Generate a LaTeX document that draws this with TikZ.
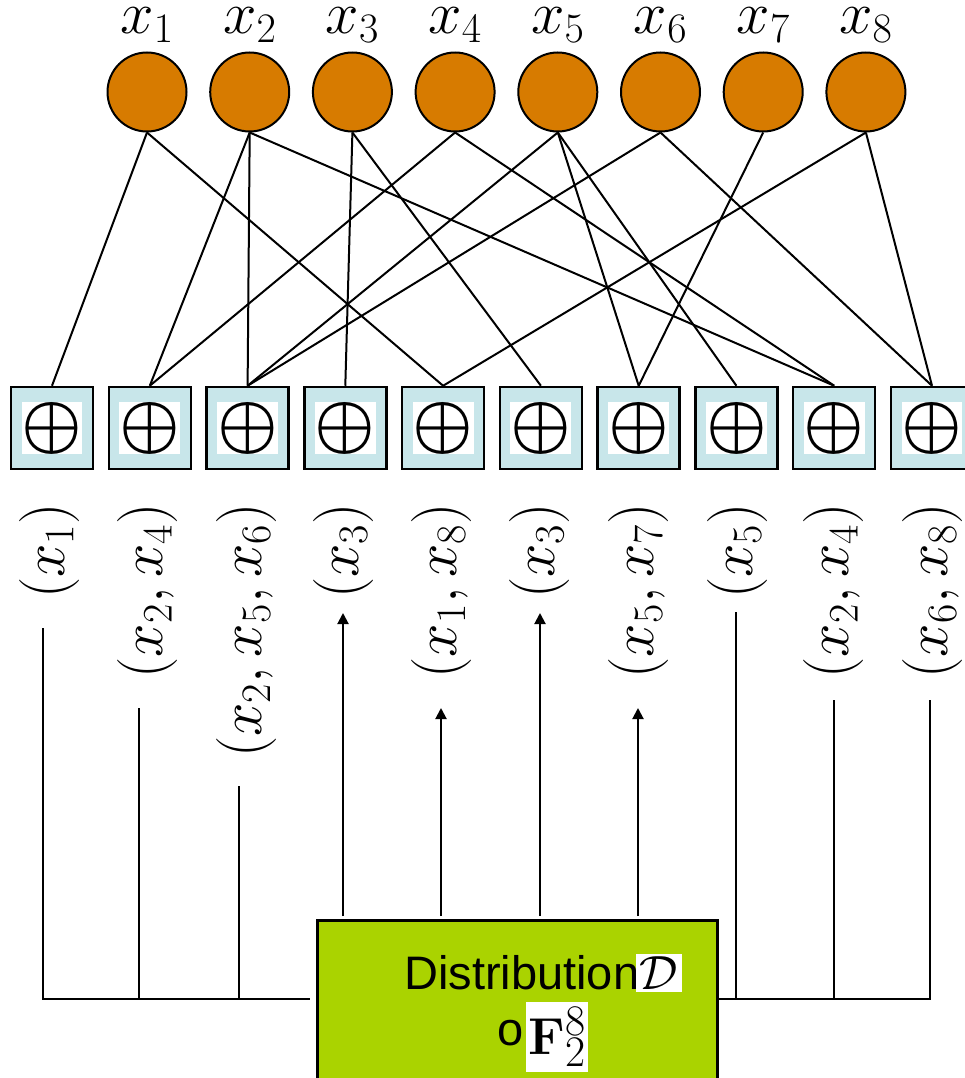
\RequirePackage{fix-cm}
\documentclass[tikz,border=0pt]{standalone}
\usepackage{graphicx}
\usepackage[no-math]{fontspec}
\newfontfamily\labelsans{Liberation Sans}
\usetikzlibrary{arrows.meta,calc}

\definecolor{varfill}{RGB}{215,123,0}
\definecolor{xorfill}{RGB}{200,230,234}
\definecolor{distfill}{RGB}{170,211,0}

% enlarged script digits for the field symbol
\newcommand{\bigscr}[1]{\scalebox{1.2}{$\scriptstyle #1$}}

\begin{document}
\begin{tikzpicture}[x=1pt,y=-1pt,
  var/.style={circle, draw=black, line width=2pt, fill=varfill,
    minimum size=79pt, inner sep=0pt},
  varlab/.style={anchor=base, inner sep=0pt, font=\fontsize{60}{72}\selectfont},
  xorbox/.style={rectangle, draw=black, line width=2.5pt, fill=xorfill,
    minimum size=82pt, inner sep=0pt},
  xorsym/.style={rectangle, fill=white, minimum width=48pt, minimum height=51pt,
    inner sep=0pt, font=\fontsize{68}{72}\selectfont\boldmath},
  tuplab/.style={rotate=90, anchor=east, inner sep=0pt,
    font=\fontsize{60}{72}\selectfont},
  wire/.style={line width=2pt},
  feed/.style={line width=2pt, -{Triangle[length=11pt,width=11pt]}},
  disttext/.style={anchor=base west, inner sep=0pt,
    font={\labelsans\fontsize{47}{56}\selectfont}},
  mathpatch/.style={rectangle, fill=white, inner sep=0pt},
]
\useasboundingbox (0,0) rectangle (965,1078);

% variable nodes x1..x8 with their labels
\foreach \i/\cx in {1/147,2/249.7,3/352.4,4/455.1,5/557.8,6/660.5,7/763.2,8/865.9} {
  \node[var] (x\i) at (\cx,92) {};
  \node[varlab] (lx\i) at (\cx,34) {$x_{\i}$};
}

% parity check boxes
\foreach \i/\cx in {1/52,2/149.8,3/247.6,4/345.3,5/443.1,6/540.9,7/638.7,8/736.4,9/834.2,10/932} {
  \node[xorbox] (p\i) at (\cx,428) {};
  \node[xorsym] (s\i) at (p\i) {$\oplus$};
}

% bipartite connections
\foreach \a/\b in {1/1,1/5,2/2,2/3,2/9,3/4,3/6,4/2,4/9,5/3,5/7,5/8,6/3,6/10,7/7,8/5,8/10}
  \draw[wire] (x\a.south) -- (p\b.north);

% tuples read by each check
\node[tuplab] (t1)  at (49.5,503)  {$(x_1)$};
\node[tuplab] (t2)  at (147.5,503) {$(x_2,x_4)$};
\node[tuplab] (t3)  at (246,503)   {$(x_2,x_5,x_6)$};
\node[tuplab] (t4)  at (343,503)   {$(x_3)$};
\node[tuplab] (t5)  at (441,503)   {$(x_1,x_8)$};
\node[tuplab] (t6)  at (539.5,503) {$(x_3)$};
\node[tuplab] (t7)  at (638,503)   {$(x_5,x_7)$};
\node[tuplab] (t8)  at (737,503)   {$(x_5)$};
\node[tuplab] (t9)  at (833.5,503) {$(x_2,x_4)$};
\node[tuplab] (t10) at (932,503)   {$(x_6,x_8)$};

% distribution box
\node[rectangle, draw=black, line width=2.5pt, fill=distfill,
  minimum width=400pt, minimum height=200pt, inner sep=0pt,
  anchor=north west] (dist) at (316,919) {};
\node[disttext] (dword) at (404,989) {Distribution};
\node[mathpatch, minimum width=46pt, minimum height=38pt,
  font=\fontsize{48}{56}\selectfont] (dsym) at (659,973) {$\mathcal{D}$};
\node[disttext] (oword) at (497,1045) {o};
\node[mathpatch, minimum width=62pt, minimum height=70pt,
  font=\fontsize{52}{60}\selectfont] (fsym) at (557,1037)
  {$\mathbf{F}^{\bigscr{8}}_{\bigscr{2}}$};

% wire ends
\coordinate (e1)  at (43,628);
\coordinate (e2)  at (139,708);
\coordinate (e3)  at (239,786);
\coordinate (e4)  at (343,613);
\coordinate (e5)  at (441,708);
\coordinate (e6)  at (540,613);
\coordinate (e7)  at (638,708);
\coordinate (e8)  at (736,612);
\coordinate (e9)  at (834,700);
\coordinate (e10) at (930,700);
\coordinate (bl)  at (310,999);
\coordinate (br)  at (716,999);

% left and right buses
\draw[wire] (e1) |- (bl);
\draw[wire] (e2) -- (e2 |- bl);
\draw[wire] (e3) -- (e3 |- bl);
\draw[wire] (br) -| (e10);
\draw[wire] (e8) -- (e8 |- br);
\draw[wire] (e9) -- (e9 |- br);

% samples fed upward
\foreach \k in {4,5,6,7}
  \draw[feed] ([yshift=3pt]e\k |- dist.north) -- (e\k);
\end{tikzpicture}
\end{document}
